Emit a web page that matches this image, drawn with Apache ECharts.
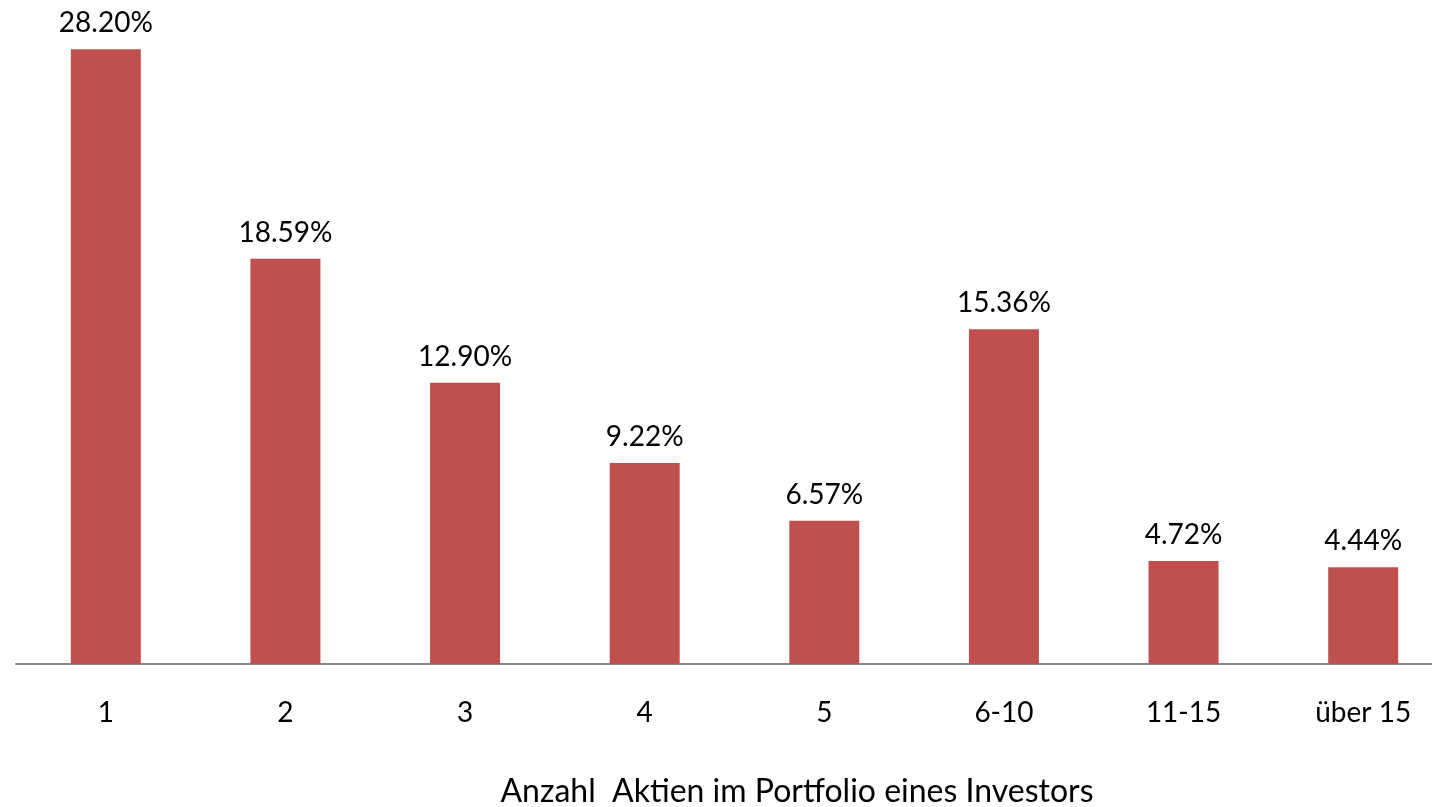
<!DOCTYPE html>
<html>
<head>
<meta charset="utf-8">
<script src="https://cdn.jsdelivr.net/npm/echarts@6/dist/echarts.min.js"></script>
<style>html,body{margin:0;padding:0;background:#fff}#c{width:1432px;height:807px}</style>
</head>
<body>
<div id="c"></div>
<script>
const categories = ['1', '2', '3', '4', '5', '6-10', '11-15', 'über 15'];
const values = [28.20, 18.59, 12.90, 9.22, 6.57, 15.36, 4.72, 4.44];
const axisTitle = 'Anzahl  Aktien im Portfolio eines Investors';

const chart = echarts.init(document.getElementById('c'));
chart.setOption({
  animation: false,
  backgroundColor: '#ffffff',
  grid: { left: 16, width: 1437, top: 10, height: 654, outerBoundsMode: 'none', containLabel: false },
  xAxis: {
    type: 'category',
    data: categories,
    axisLine: { lineStyle: { color: '#868686', width: 2 } },
    axisTick: { show: false },
    axisLabel: { color: '#000', fontFamily: 'Lato', fontSize: 28, margin: 35 }
  },
  yAxis: {
    type: 'value', min: 0, max: 30, show: false,
    splitLine: { show: false }
  },
  series: [{
    type: 'bar',
    data: values,
    barWidth: 70,
    itemStyle: { color: '#C0504D' },
    label: {
      show: true, position: 'top', distance: 12,
      color: '#000', fontFamily: 'Lato', fontSize: 28,
      formatter: p => p.value.toFixed(2) + '%'
    }
  }],
  graphic: [{
    type: 'text', x: 797, y: 792,
    style: {
      text: axisTitle, fill: '#000', font: '32px Lato',
      textAlign: 'center', textVerticalAlign: 'middle'
    }
  }]
});
</script>
</body>
</html>
